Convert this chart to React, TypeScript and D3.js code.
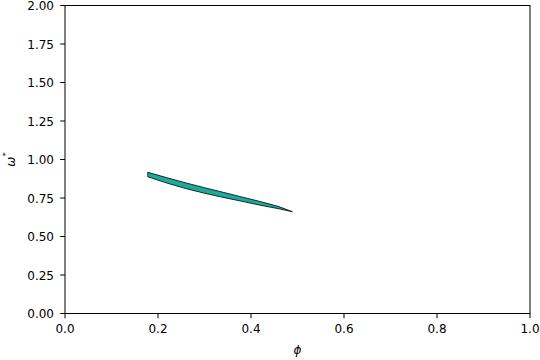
import React from "react";
import * as d3 from "d3";

const phi = [0.178, 0.22, 0.26, 0.30, 0.34, 0.38, 0.42, 0.46, 0.489];
const upper = [0.917, 0.881, 0.848, 0.817, 0.787, 0.757, 0.727, 0.694, 0.661];
const lower = [0.888, 0.846, 0.811, 0.781, 0.754, 0.729, 0.703, 0.680, 0.661];
const xTicks = [0, 0.2, 0.4, 0.6, 0.8, 1.0];
const yTicks = [0, 0.25, 0.5, 0.75, 1.0, 1.25, 1.5, 1.75, 2.0];

const W = 540, H = 360;
const L = 65, R = 530, T = 5.5, B = 313.5;

export default function App() {
  const x = d3.scaleLinear().domain([0, 1]).range([L, R]);
  const y = d3.scaleLinear().domain([0, 2]).range([B, T]);
  const pts = phi.map((p, i) => ({ p, u: upper[i], l: lower[i] }));
  const area = d3
    .area<{ p: number; u: number; l: number }>()
    .x((d) => x(d.p))
    .y0((d) => y(d.l))
    .y1((d) => y(d.u));
  const font = "DejaVu Sans, sans-serif";
  return (
    <svg
      width={W}
      height={H}
      style={{ position: "absolute", left: 0, top: 0, background: "#fff" }}
    >
      <rect x={0} y={0} width={W} height={H} fill="#fff" />
      <path d={area(pts) as string} fill="#1aab9b" stroke="#000" strokeWidth={0.8} strokeLinejoin="miter" />
      <rect x={L} y={T} width={R - L} height={B - T} fill="none" stroke="#000" strokeWidth={1} />
      {xTicks.map((t) => (
        <g key={"x" + t}>
          <line x1={x(t)} x2={x(t)} y1={B} y2={B + 4.8} stroke="#000" strokeWidth={1} />
          <text x={x(t)} y={B + 19.5} textAnchor="middle" fontFamily={font} fontSize={12} fill="#000">
            {t.toFixed(1)}
          </text>
        </g>
      ))}
      {yTicks.map((t) => (
        <g key={"y" + t}>
          <line x1={L - 4.8} x2={L} y1={y(t)} y2={y(t)} stroke="#000" strokeWidth={1} />
          <text
            x={L - 11}
            y={y(t)}
            dy="0.38em"
            textAnchor="end"
            fontFamily={font}
            fontSize={12}
            fill="#000"
          >
            {t.toFixed(2)}
          </text>
        </g>
      ))}
      <text
        x={(L + R) / 2}
        y={354}
        textAnchor="middle"
        fontFamily={font}
        fontStyle="italic"
        fontSize={12}
        fill="#000"
      >
        ϕ
      </text>
      <g transform={`translate(15, ${(T + B) / 2}) rotate(-90)`}>
        <text textAnchor="middle" fontFamily={font} fontSize={12} fill="#000">
          <tspan fontStyle="italic">ω</tspan>
          <tspan fontSize={8.5} dy={-6}>*</tspan>
        </text>
      </g>
    </svg>
  );
}
